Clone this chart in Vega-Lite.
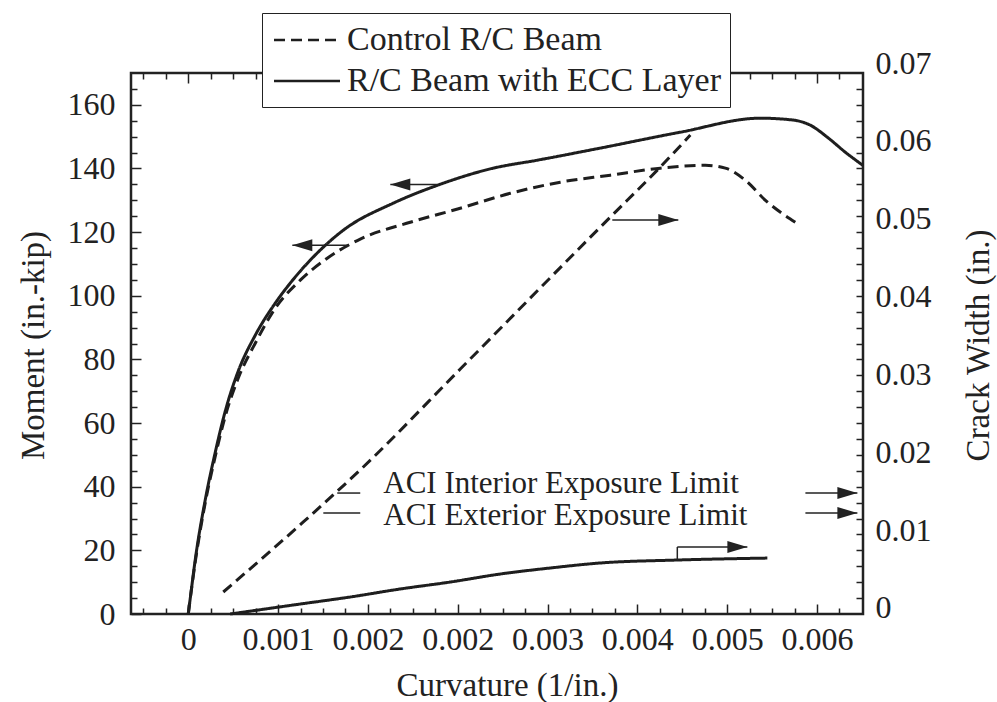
{
  "$schema": "https://vega.github.io/schema/vega-lite/v6.json",
  "width": 732,
  "height": 541,
  "autosize": {"type": "none"},
  "padding": {"left": 131, "top": 73, "right": 134, "bottom": 88},
  "background": "white",
  "datasets": {
    "moment": [
      {"beam": "R/C Beam with ECC Layer", "curvature": 0, "moment": 0},
      {"beam": "R/C Beam with ECC Layer", "curvature": 0.000027, "moment": 7.5},
      {"beam": "R/C Beam with ECC Layer", "curvature": 0.000062, "moment": 17},
      {"beam": "R/C Beam with ECC Layer", "curvature": 0.000151, "moment": 35.8},
      {"beam": "R/C Beam with ECC Layer", "curvature": 0.000241, "moment": 50.9},
      {"beam": "R/C Beam with ECC Layer", "curvature": 0.00033, "moment": 63.8},
      {"beam": "R/C Beam with ECC Layer", "curvature": 0.000445, "moment": 76.3},
      {"beam": "R/C Beam with ECC Layer", "curvature": 0.000597, "moment": 87.6},
      {"beam": "R/C Beam with ECC Layer", "curvature": 0.000775, "moment": 97.7},
      {"beam": "R/C Beam with ECC Layer", "curvature": 0.000909, "moment": 104.0},
      {"beam": "R/C Beam with ECC Layer", "curvature": 0.001087, "moment": 111.2},
      {"beam": "R/C Beam with ECC Layer", "curvature": 0.001381, "moment": 120.6},
      {"beam": "R/C Beam with ECC Layer", "curvature": 0.001826, "moment": 129.1},
      {"beam": "R/C Beam with ECC Layer", "curvature": 0.002218, "moment": 134.7},
      {"beam": "R/C Beam with ECC Layer", "curvature": 0.002717, "moment": 140.1},
      {"beam": "R/C Beam with ECC Layer", "curvature": 0.003109, "moment": 142.6},
      {"beam": "R/C Beam with ECC Layer", "curvature": 0.00367, "moment": 146.4},
      {"beam": "R/C Beam with ECC Layer", "curvature": 0.004383, "moment": 151.4},
      {"beam": "R/C Beam with ECC Layer", "curvature": 0.005096, "moment": 155.8},
      {"beam": "R/C Beam with ECC Layer", "curvature": 0.00539, "moment": 155.2},
      {"beam": "R/C Beam with ECC Layer", "curvature": 0.005541, "moment": 153.6},
      {"beam": "R/C Beam with ECC Layer", "curvature": 0.005693, "moment": 149.8},
      {"beam": "R/C Beam with ECC Layer", "curvature": 0.005853, "moment": 145.1},
      {"beam": "R/C Beam with ECC Layer", "curvature": 0.006008, "moment": 141.0},
      {"beam": "Control R/C Beam", "curvature": 0, "moment": 0},
      {"beam": "Control R/C Beam", "curvature": 0.000062, "moment": 16.3},
      {"beam": "Control R/C Beam", "curvature": 0.000151, "moment": 34.9},
      {"beam": "Control R/C Beam", "curvature": 0.000241, "moment": 49.6},
      {"beam": "Control R/C Beam", "curvature": 0.00033, "moment": 62.2},
      {"beam": "Control R/C Beam", "curvature": 0.000445, "moment": 74.1},
      {"beam": "Control R/C Beam", "curvature": 0.000597, "moment": 85.1},
      {"beam": "Control R/C Beam", "curvature": 0.000775, "moment": 96.1},
      {"beam": "Control R/C Beam", "curvature": 0.000998, "moment": 104.9},
      {"beam": "Control R/C Beam", "curvature": 0.001238, "moment": 111.8},
      {"beam": "Control R/C Beam", "curvature": 0.001532, "moment": 117.8},
      {"beam": "Control R/C Beam", "curvature": 0.001978, "moment": 123.1},
      {"beam": "Control R/C Beam", "curvature": 0.002423, "moment": 127.5},
      {"beam": "Control R/C Beam", "curvature": 0.002869, "moment": 132.2},
      {"beam": "Control R/C Beam", "curvature": 0.003314, "moment": 135.7},
      {"beam": "Control R/C Beam", "curvature": 0.00376, "moment": 137.9},
      {"beam": "Control R/C Beam", "curvature": 0.004205, "moment": 140.1},
      {"beam": "Control R/C Beam", "curvature": 0.004606, "moment": 141.0},
      {"beam": "Control R/C Beam", "curvature": 0.004784, "moment": 140.1},
      {"beam": "Control R/C Beam", "curvature": 0.004962, "moment": 136.3},
      {"beam": "Control R/C Beam", "curvature": 0.005141, "moment": 130.0},
      {"beam": "Control R/C Beam", "curvature": 0.005408, "moment": 123.1}
    ],
    "crack": [
      {"beam": "Control R/C Beam", "curvature": 0.000312, "crack": 0.00205},
      {"beam": "Control R/C Beam", "curvature": 0.001025, "crack": 0.01103},
      {"beam": "Control R/C Beam", "curvature": 0.001559, "crack": 0.01808},
      {"beam": "Control R/C Beam", "curvature": 0.002423, "crack": 0.03064},
      {"beam": "Control R/C Beam", "curvature": 0.00376, "crack": 0.05013},
      {"beam": "Control R/C Beam", "curvature": 0.004178, "crack": 0.05615},
      {"beam": "Control R/C Beam", "curvature": 0.004472, "crack": 0.06064},
      {"beam": "R/C Beam with ECC Layer", "curvature": 0.000374, "crack": -0.00077},
      {"beam": "R/C Beam with ECC Layer", "curvature": 0.000998, "crack": 0.00051},
      {"beam": "R/C Beam with ECC Layer", "curvature": 0.001443, "crack": 0.00141},
      {"beam": "R/C Beam with ECC Layer", "curvature": 0.001889, "crack": 0.00244},
      {"beam": "R/C Beam with ECC Layer", "curvature": 0.002334, "crack": 0.00333},
      {"beam": "R/C Beam with ECC Layer", "curvature": 0.00278, "crack": 0.00436},
      {"beam": "R/C Beam with ECC Layer", "curvature": 0.003225, "crack": 0.00513},
      {"beam": "R/C Beam with ECC Layer", "curvature": 0.00367, "crack": 0.00577},
      {"beam": "R/C Beam with ECC Layer", "curvature": 0.004356, "crack": 0.00615},
      {"beam": "R/C Beam with ECC Layer", "curvature": 0.005158, "crack": 0.0064}
    ],
    "arrowsM": [
      {"x1": 0.0018, "x2": 0.002218, "m": 135},
      {"x1": 0.000927, "x2": 0.001425, "m": 115.9}
    ],
    "headsM": [
      {"x": 0.0018, "m": 135, "dir": "left"},
      {"x": 0.000927, "m": 115.9, "dir": "left"}
    ],
    "arrowsC": [
      {"x1": 0.003777, "x2": 0.004365, "c1": 0.04974, "c2": 0.04974},
      {"x1": 0.004356, "x2": 0.004356, "c1": 0.00615, "c2": 0.00782},
      {"x1": 0.004356, "x2": 0.00498, "c1": 0.00782, "c2": 0.00782},
      {"x1": 0.005497, "x2": 0.00596, "c1": 0.01474, "c2": 0.01474},
      {"x1": 0.005497, "x2": 0.00596, "c1": 0.01218, "c2": 0.01218},
      {"x1": 0.001327, "x2": 0.001532, "c1": 0.01474, "c2": 0.01474},
      {"x1": 0.001203, "x2": 0.001532, "c1": 0.01218, "c2": 0.01218}
    ],
    "headsC": [
      {"x": 0.004365, "c": 0.04974, "dir": "right"},
      {"x": 0.00498, "c": 0.00782, "dir": "right"},
      {"x": 0.00596, "c": 0.01474, "dir": "right"},
      {"x": 0.00596, "c": 0.01218, "dir": "right"}
    ],
    "texts": [
      {"x": 0.001737, "c": 0.01474, "label": "ACI Interior Exposure Limit"},
      {"x": 0.001737, "c": 0.01064, "label": "ACI Exterior Exposure Limit"}
    ]
  },
  "resolve": {
    "scale": {"y": "independent"},
    "axis": {"x": "independent", "y": "independent"}
  },
  "layer": [
    {
      "data": {"name": "moment"},
      "mark": {"type": "line", "strokeWidth": 3, "color": "#1e1e1e", "interpolate": "monotone"},
      "encoding": {
        "x": {
          "field": "curvature", "type": "quantitative",
          "scale": {"domain": [-0.00051, 0.00601], "nice": false, "zero": false},
          "axis": {
            "orient": "bottom",
            "values": [0, 0.0008, 0.0016, 0.0024, 0.0032, 0.004, 0.0048, 0.0056],
            "labelExpr": "datum.value == 0 ? '0' : format(datum.value, '.3f')",
            "tickSize": -10,
            "labelPadding": 45,
            "labelBaseline": "alphabetic",
            "labelFlush": false,
            "labelOverlap": false,
            "title": "Curvature (1/in.)",
            "titleX": 376,
            "titleY": 81,
            "titleBaseline": "alphabetic",
            "titleAlign": "center"
          }
        },
        "y": {
          "field": "moment", "type": "quantitative",
          "scale": {"domain": [0, 170], "nice": false, "zero": false},
          "axis": {
            "orient": "left",
            "values": [0, 20, 40, 60, 80, 100, 120, 140, 160],
            "tickSize": -10,
            "labelPadding": 26,
            "labelOverlap": false,
            "title": "Moment (in.-kip)",
            "titleAngle": -90,
            "titleX": -98,
            "titleY": 272,
            "titleBaseline": "middle",
            "titleAlign": "center"
          }
        },
        "strokeDash": {
          "field": "beam", "type": "nominal",
          "scale": {"domain": ["Control R/C Beam", "R/C Beam with ECC Layer"], "range": [[11, 6], [1, 0]]},
          "legend": {
            "orient": "none",
            "legendX": 131,
            "legendY": -60,
            "title": null,
            "fillColor": "white",
            "strokeColor": "#222",
            "padding": 9,
            "labelFont": "Liberation Serif",
            "labelFontSize": 34,
            "labelColor": "#222",
            "labelLimit": 600,
            "labelOffset": 22,
            "symbolType": "M -2 0 L 2 0",
            "symbolSize": 1089,
            "symbolOffset": 18,
            "symbolStrokeWidth": 2.5,
            "symbolStrokeColor": "#222",
            "rowPadding": 6
          }
        }
      }
    },
    {
      "data": {"name": "arrowsM"},
      "mark": {"type": "rule", "strokeWidth": 1.5, "color": "#222"},
      "encoding": {
        "x": {
          "field": "x1", "type": "quantitative",
          "scale": {"domain": [-0.00051, 0.00601], "nice": false, "zero": false},
          "axis": {
            "orient": "top",
            "values": [0, 0.0008, 0.0016, 0.0024, 0.0032, 0.004, 0.0048, 0.0056],
            "tickSize": -10,
            "labels": false,
            "title": null
          }
        },
        "x2": {"field": "x2"},
        "y": {
          "field": "m", "type": "quantitative",
          "scale": {"domain": [0, 170], "nice": false, "zero": false},
          "axis": {
            "orient": "left",
            "values": [5, 10, 15, 25, 30, 35, 45, 50, 55, 65, 70, 75, 85, 90, 95, 105, 110, 115, 125, 130, 135, 145, 150, 155, 165],
            "tickSize": -6,
            "labels": false,
            "title": null
          }
        }
      }
    },
    {
      "data": {"name": "headsM"},
      "mark": {"type": "point", "filled": true, "color": "#222", "opacity": 1, "size": 400},
      "encoding": {
        "x": {
          "field": "x", "type": "quantitative",
          "scale": {"domain": [-0.00051, 0.00601], "nice": false, "zero": false},
          "axis": {
            "orient": "top",
            "values": [-0.0004, -0.0002, 0.0002, 0.0004, 0.0006, 0.001, 0.0012, 0.0014, 0.0018, 0.002, 0.0022, 0.0026, 0.0028, 0.003, 0.0034, 0.0036, 0.0038, 0.0042, 0.0044, 0.0046, 0.005, 0.0052, 0.0054, 0.0058],
            "tickSize": -6,
            "labels": false,
            "title": null
          }
        },
        "y": {
          "field": "m", "type": "quantitative",
          "scale": {"domain": [0, 170], "nice": false, "zero": false},
          "axis": {
            "orient": "right",
            "values": [5, 10, 15, 20, 25, 30, 35, 40, 45, 50, 55, 60, 65, 70, 75, 80, 85, 90, 95, 100, 105, 110, 115, 120, 125, 130, 135, 140, 145, 150, 155, 160, 165],
            "tickSize": -7,
            "labels": false,
            "title": null
          }
        },
        "shape": {
          "field": "dir", "type": "nominal",
          "scale": {"domain": ["left", "right"], "range": ["M 0 0 L 2 -0.6 L 2 0.6 Z", "M 0 0 L -2 -0.6 L -2 0.6 Z"]},
          "legend": null
        }
      }
    },
    {
      "data": {"name": "crack"},
      "mark": {"type": "line", "strokeWidth": 3, "color": "#1e1e1e", "interpolate": "monotone"},
      "encoding": {
        "x": {
          "field": "curvature", "type": "quantitative",
          "scale": {"domain": [-0.00051, 0.00601], "nice": false, "zero": false},
          "axis": {
            "orient": "bottom",
            "values": [-0.0004, -0.0002, 0.0002, 0.0004, 0.0006, 0.001, 0.0012, 0.0014, 0.0018, 0.002, 0.0022, 0.0026, 0.0028, 0.003, 0.0034, 0.0036, 0.0038, 0.0042, 0.0044, 0.0046, 0.005, 0.0052, 0.0054, 0.0058],
            "tickSize": -6,
            "labels": false,
            "title": null
          }
        },
        "y": {
          "field": "crack", "type": "quantitative",
          "scale": {"domain": [-0.00077, 0.0686], "nice": false, "zero": false},
          "axis": {
            "orient": "right",
            "values": [0, 0.01, 0.02, 0.03, 0.04, 0.05, 0.06, 0.0686],
            "labelExpr": "datum.value == 0 ? '0' : datum.value > 0.065 ? '0.07' : format(datum.value, '.2f')",
            "ticks": false,
            "labelPadding": 12,
            "labelOffset": {"expr": "datum.value > 0.065 ? -10 : 0"},
            "labelOverlap": false,
            "title": "Crack Width (in.)",
            "titleAngle": -90,
            "titleX": 115,
            "titleY": 272,
            "titleBaseline": "middle",
            "titleAlign": "center"
          }
        },
        "strokeDash": {"field": "beam", "type": "nominal"}
      }
    },
    {
      "data": {"name": "arrowsC"},
      "mark": {"type": "rule", "strokeWidth": 1.5, "color": "#222"},
      "encoding": {
        "x": {
          "field": "x1", "type": "quantitative",
          "scale": {"domain": [-0.00051, 0.00601], "nice": false, "zero": false},
          "axis": null
        },
        "x2": {"field": "x2"},
        "y": {
          "field": "c1", "type": "quantitative",
          "scale": {"domain": [-0.00077, 0.0686], "nice": false, "zero": false},
          "axis": null
        },
        "y2": {"field": "c2"}
      }
    },
    {
      "data": {"name": "headsC"},
      "mark": {"type": "point", "filled": true, "color": "#222", "opacity": 1, "size": 400},
      "encoding": {
        "x": {
          "field": "x", "type": "quantitative",
          "scale": {"domain": [-0.00051, 0.00601], "nice": false, "zero": false},
          "axis": null
        },
        "y": {
          "field": "c", "type": "quantitative",
          "scale": {"domain": [-0.00077, 0.0686], "nice": false, "zero": false},
          "axis": null
        },
        "shape": {
          "field": "dir", "type": "nominal",
          "scale": {"domain": ["left", "right"], "range": ["M 0 0 L 2 -0.6 L 2 0.6 Z", "M 0 0 L -2 -0.6 L -2 0.6 Z"]},
          "legend": null
        }
      }
    },
    {
      "data": {"name": "texts"},
      "mark": {"type": "text", "font": "Liberation Serif", "fontSize": 31, "align": "left", "baseline": "alphabetic", "color": "#222"},
      "encoding": {
        "x": {
          "field": "x", "type": "quantitative",
          "scale": {"domain": [-0.00051, 0.00601], "nice": false, "zero": false},
          "axis": null
        },
        "y": {
          "field": "c", "type": "quantitative",
          "scale": {"domain": [-0.00077, 0.0686], "nice": false, "zero": false},
          "axis": null
        },
        "text": {"field": "label", "type": "nominal"}
      }
    }
  ],
  "config": {
    "view": {"stroke": "#222", "strokeWidth": 2.5},
    "font": "Liberation Serif",
    "axis": {
      "grid": false,
      "domain": false,
      "labelFont": "Liberation Serif",
      "titleFont": "Liberation Serif",
      "labelFontSize": 32,
      "titleFontSize": 33,
      "titleFontWeight": "normal",
      "labelColor": "#222",
      "titleColor": "#222",
      "tickColor": "#222",
      "tickWidth": 1.5
    }
  }
}
